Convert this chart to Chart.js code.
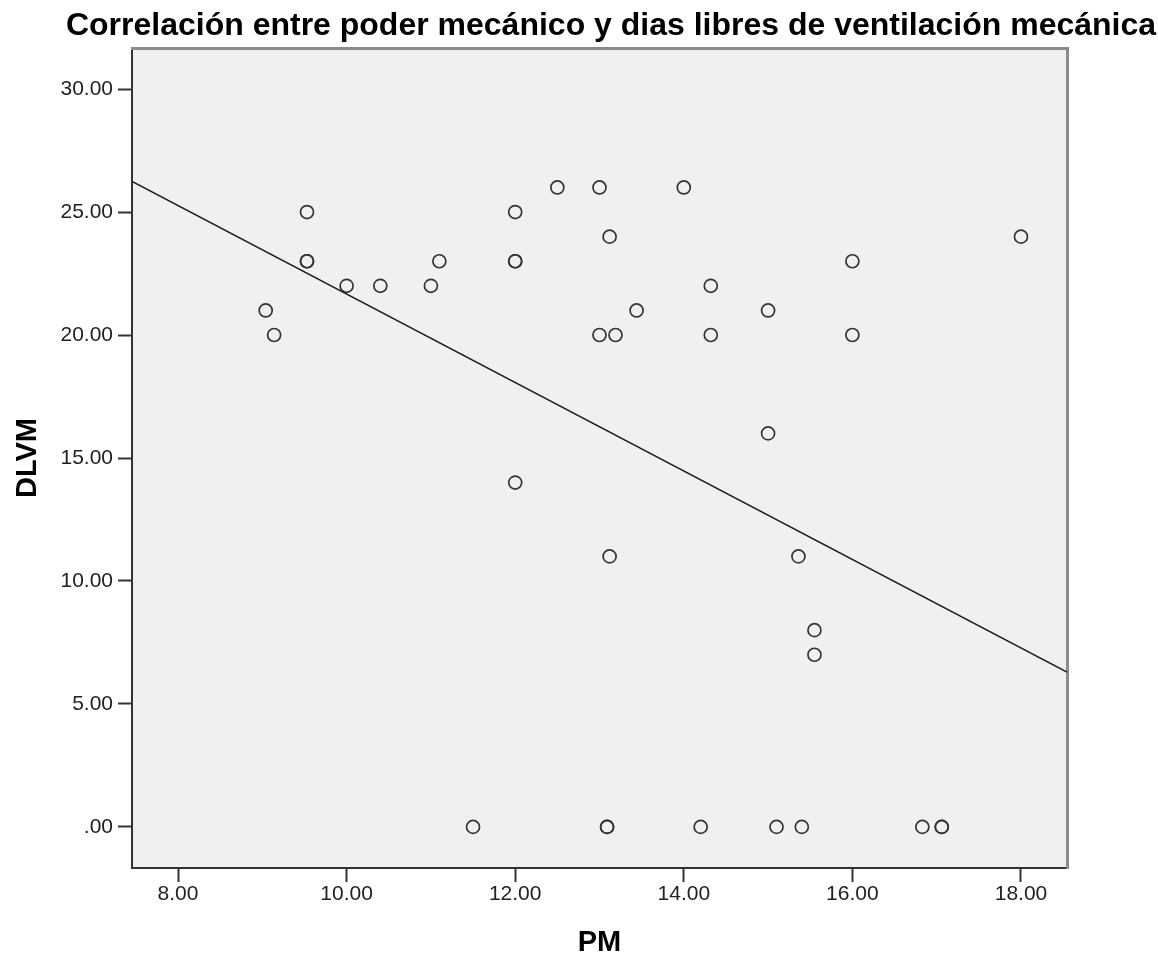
<!DOCTYPE html>
<html>
<head>
<meta charset="utf-8">
<title>Correlación PM / DLVM</title>
<script src="https://cdn.jsdelivr.net/npm/chart.js@4"></script>
<style>
  html, body { margin: 0; padding: 0; background: #fff; }
  #wrap { width: 1158px; height: 959px; }
</style>
</head>
<body>
<div id="wrap"><canvas id="chart" width="1158" height="959"></canvas></div>
<script>
// Poder mecánico (PM) de cada paciente
const pmValues = [
  9.04, 9.14, 9.53, 9.53, 9.53, 10.0, 10.4, 11.0, 11.1, 11.5,
  12.0, 12.0, 12.0, 12.0, 12.5, 13.0, 13.0, 13.12, 13.12, 13.19,
  13.09, 13.09, 13.44, 14.0, 14.32, 14.32, 14.2, 15.0, 15.0, 15.1,
  15.36, 15.4, 15.55, 15.55, 16.0, 16.0, 16.83, 17.06, 17.06, 18.0
];
// Días libres de ventilación mecánica (DLVM)
const dlvmValues = [
  21, 20, 25, 23, 23, 22, 22, 22, 23, 0,
  25, 23, 23, 14, 26, 26, 20, 24, 11, 20,
  0, 0, 21, 26, 22, 20, 0, 21, 16, 0,
  11, 0, 8, 7, 23, 20, 0, 0, 0, 24
];
// Recta de ajuste (extremos)
const fitPm = [7.454, 18.546];
const fitDlvm = [26.25, 6.3];

// Marcas de los ejes
const xTickValues = [8, 10, 12, 14, 16, 18];
const xTickLabels = ["8.00", "10.00", "12.00", "14.00", "16.00", "18.00"];
const yTickValues = [0, 5, 10, 15, 20, 25, 30];
const yTickLabels = [".00", "5.00", "10.00", "15.00", "20.00", "25.00", "30.00"];

const fontFamily = "'Liberation Sans', Arial, sans-serif";

// Fondo gris del área del gráfico
const plotBackground = {
  id: "plotBackground",
  beforeDraw(chart) {
    const { ctx, chartArea: a } = chart;
    ctx.save();
    ctx.fillStyle = "#f0f0f0";
    ctx.fillRect(a.left, a.top, a.right - a.left, a.bottom - a.top);
    ctx.restore();
  }
};

const points = pmValues.map((pm, i) => ({ x: pm, y: dlvmValues[i] }));
const fitLine = fitPm.map((pm, i) => ({ x: pm, y: fitDlvm[i] }));

const ctx = document.getElementById("chart").getContext("2d");
new Chart(ctx, {
  type: "scatter",
  data: {
    datasets: [
      {
        label: "DLVM",
        data: points,
        pointStyle: "circle",
        pointRadius: 6.5,
        pointBorderWidth: 1.7,
        borderColor: "#333",
        backgroundColor: "rgba(0,0,0,0)",
        pointHoverRadius: 6.5
      },
      {
        type: "line",
        label: "Ajuste lineal",
        data: fitLine,
        showLine: true,
        pointRadius: 0,
        borderColor: "#1a1a1a",
        borderWidth: 1.5,
        fill: false
      }
    ]
  },
  options: {
    responsive: false,
    animation: false,
    layout: { padding: { left: 0, right: -64, top: 0, bottom: 0 } },
    plugins: {
      legend: { display: false },
      tooltip: { enabled: false },
      title: {
        display: true,
        text: "Correlación entre poder mecánico y dias libres de ventilación mecánica",
        color: "#000",
        font: { family: fontFamily, size: 32, weight: "bold", lineHeight: 1.2 },
        padding: { top: 6.8, bottom: 2.8 }
      }
    },
    scales: {
      x: {
        type: "linear",
        position: "bottom",
        min: 7.454,
        max: 18.546,
        afterBuildTicks(scale) {
          scale.ticks = xTickValues.map((v) => ({ value: v }));
        },
        afterFit(scale) {
          scale.height = 91;
        },
        ticks: {
          padding: 0,
          color: "#222",
          font: { family: fontFamily, size: 21 },
          callback: (value) => xTickLabels[xTickValues.indexOf(value)]
        },
        grid: {
          display: true,
          drawOnChartArea: false,
          drawTicks: true,
          tickLength: 14,
          tickColor: "#333",
          tickWidth: 2
        },
        border: { display: true, color: "#333", width: 2 },
        title: {
          display: true,
          text: "PM",
          color: "#000",
          font: { family: fontFamily, size: 29, weight: "bold", lineHeight: 1 },
          padding: { top: 0, bottom: 1.5 }
        }
      },
      y: {
        type: "linear",
        position: "left",
        min: -1.67,
        max: 31.67,
        afterBuildTicks(scale) {
          scale.ticks = yTickValues.map((v) => ({ value: v }));
        },
        afterFit(scale) {
          scale.width = 132;
        },
        ticks: {
          padding: 5,
          color: "#222",
          font: { family: fontFamily, size: 21 },
          callback: (value) => yTickLabels[yTickValues.indexOf(value)]
        },
        grid: {
          display: true,
          drawOnChartArea: false,
          drawTicks: true,
          tickLength: 14,
          tickColor: "#333",
          tickWidth: 2
        },
        border: { display: true, color: "#333", width: 2 },
        title: {
          display: true,
          text: "DLVM",
          color: "#000",
          font: { family: fontFamily, size: 29, weight: "bold", lineHeight: 1 },
          padding: { top: 13.5, bottom: 0 }
        }
      },
      // bordes superior y derecho del marco
      xTop: {
        type: "linear",
        position: "top",
        min: 7.454,
        max: 18.546,
        afterFit(scale) {
          scale.height = 0;
        },
        ticks: { display: false },
        grid: { display: false },
        border: { display: true, color: "#8a8a8a", width: 3 }
      },
      yRight: {
        type: "linear",
        position: "right",
        min: -1.67,
        max: 31.67,
        afterFit(scale) {
          scale.width = 155;
        },
        ticks: { display: false },
        grid: { display: false },
        border: { display: true, color: "#8a8a8a", width: 3 }
      }
    }
  },
  plugins: [plotBackground]
});
</script>
</body>
</html>
